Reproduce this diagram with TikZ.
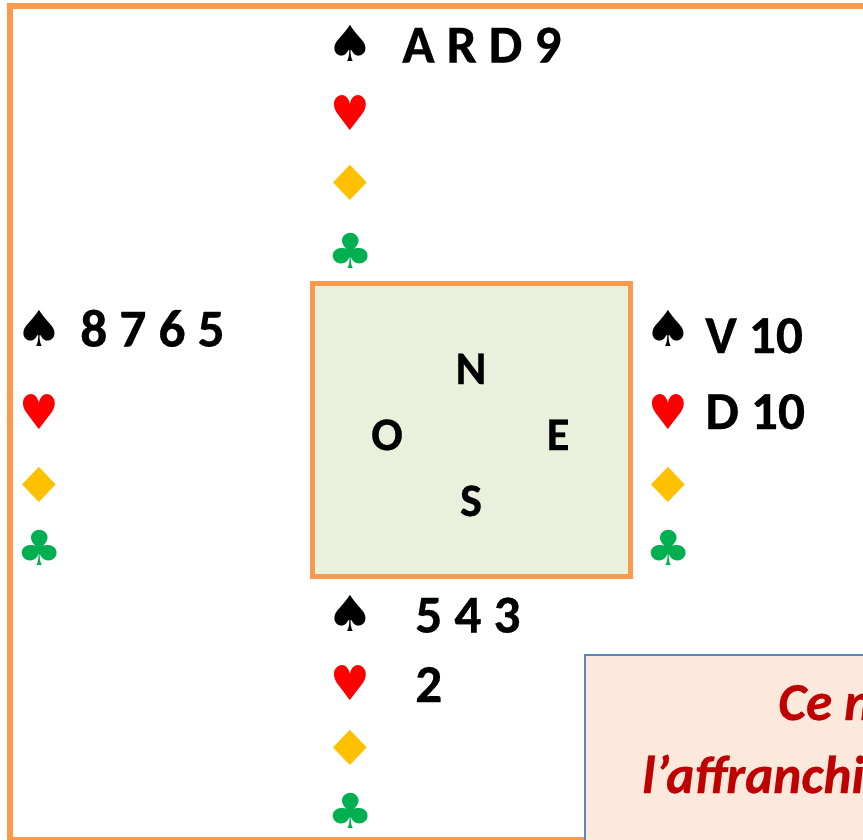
\documentclass[tikz,border=0pt]{standalone}
\usepackage{fontspec}
\usepackage{graphicx}
\setmainfont{Carlito}[BoldFeatures={FakeBold=0.5},BoldItalicFeatures={FakeBold=0.5}]
\newfontfamily\suitfont{DejaVu Sans}
\definecolor{orangeline}{HTML}{F99A4C}
\definecolor{boardfill}{HTML}{E9F1DD}
\definecolor{notefill}{HTML}{FCE9DB}
\definecolor{noteline}{HTML}{5B87C0}
\definecolor{notetext}{HTML}{C00000}
\definecolor{diamondc}{HTML}{FFC000}
\definecolor{clubc}{HTML}{00B050}
\tikzset{
  x=0.75pt,y=-0.75pt,
  suit/.style={inner sep=0pt,font=\suitfont\fontsize{31}{31}\selectfont},
  spade/.style={suit,text=black},
  heart/.style={suit,text=red},
  diam/.style={suit,text=diamondc},
  club/.style={suit,text=clubc},
  hand/.style={inner sep=0pt,anchor=base west,font=\bfseries\fontsize{40}{40}\selectfont},
  compass/.style={inner sep=0pt,anchor=base,font=\bfseries\fontsize{35}{35}\selectfont},
  note/.style={inner sep=0pt,anchor=base west,text=notetext,font=\bfseries\itshape\fontsize{40}{40}\selectfont},
}
\newcommand{\spadeg}{\scalebox{1.29}[1.2]{♠}}
\newcommand{\heartg}{\scalebox{1.07}[1.16]{♥}}
\newcommand{\diamg}{\scalebox{1.45}[1.17]{♦}}
\newcommand{\clubg}{\scalebox{1.25}[1.17]{♣}}
\newcommand{\suits}[5]{%
  \node[spade] (#1s) at (#2,#3) {\spadeg};
  \node[heart] (#1h) at (#2,#4) {\heartg};
  \node[diam] (#1d) at (#2,#5) {\diamg};
}
\begin{document}
\begin{tikzpicture}
\useasboundingbox (0,0) rectangle (863,839);
\clip (0,0) rectangle (863,839);
\draw[orangeline,line width=4.5pt] (10,6.3) rectangle (900,839.5);
\draw[orangeline,line width=3.75pt,fill=boardfill] (312.5,283.5) rectangle (630,576.5);
\draw[noteline,line width=1.5pt,fill=notefill] (585,655) rectangle (900,860);

\node[compass] (n) at (471,384) {N};
\node[compass] (o) at (387,450) {O};
\node[compass] (e) at (558,450) {E};
\node[compass] (s) at (471,516) {S};

\suits{N}{350.5}{43}{113}{183}
\node[club] (Nc) at (351,251) {\clubg};
\node[hand] (Nst) at (402,62.5) {A R D 9};

\suits{W}{39.5}{328}{412}{485}
\node[club] (Wc) at (40,548) {\clubg};
\node[hand] (Wst) at (80,346.5) {8 7 6 5};

\suits{E}{668.5}{328}{412}{485}
\node[club] (Ec) at (669,548) {\clubg};
\node[hand] (Est) at (705,353) {V 10};
\node[hand] (Eht) at (705,429) {D 10};

\suits{S}{350.5}{613}{683}{748}
\node[club] (Sc) at (351,811) {\clubg};
\node[hand] (Sst) at (415,632.5) {5 4 3};
\node[hand] (Sht) at (415,702) {2};

\node[note] (l1) at (778,720) {Ce n};
\node[note] (l2) at (642,793) {l’affranchi};
\end{tikzpicture}
\end{document}
